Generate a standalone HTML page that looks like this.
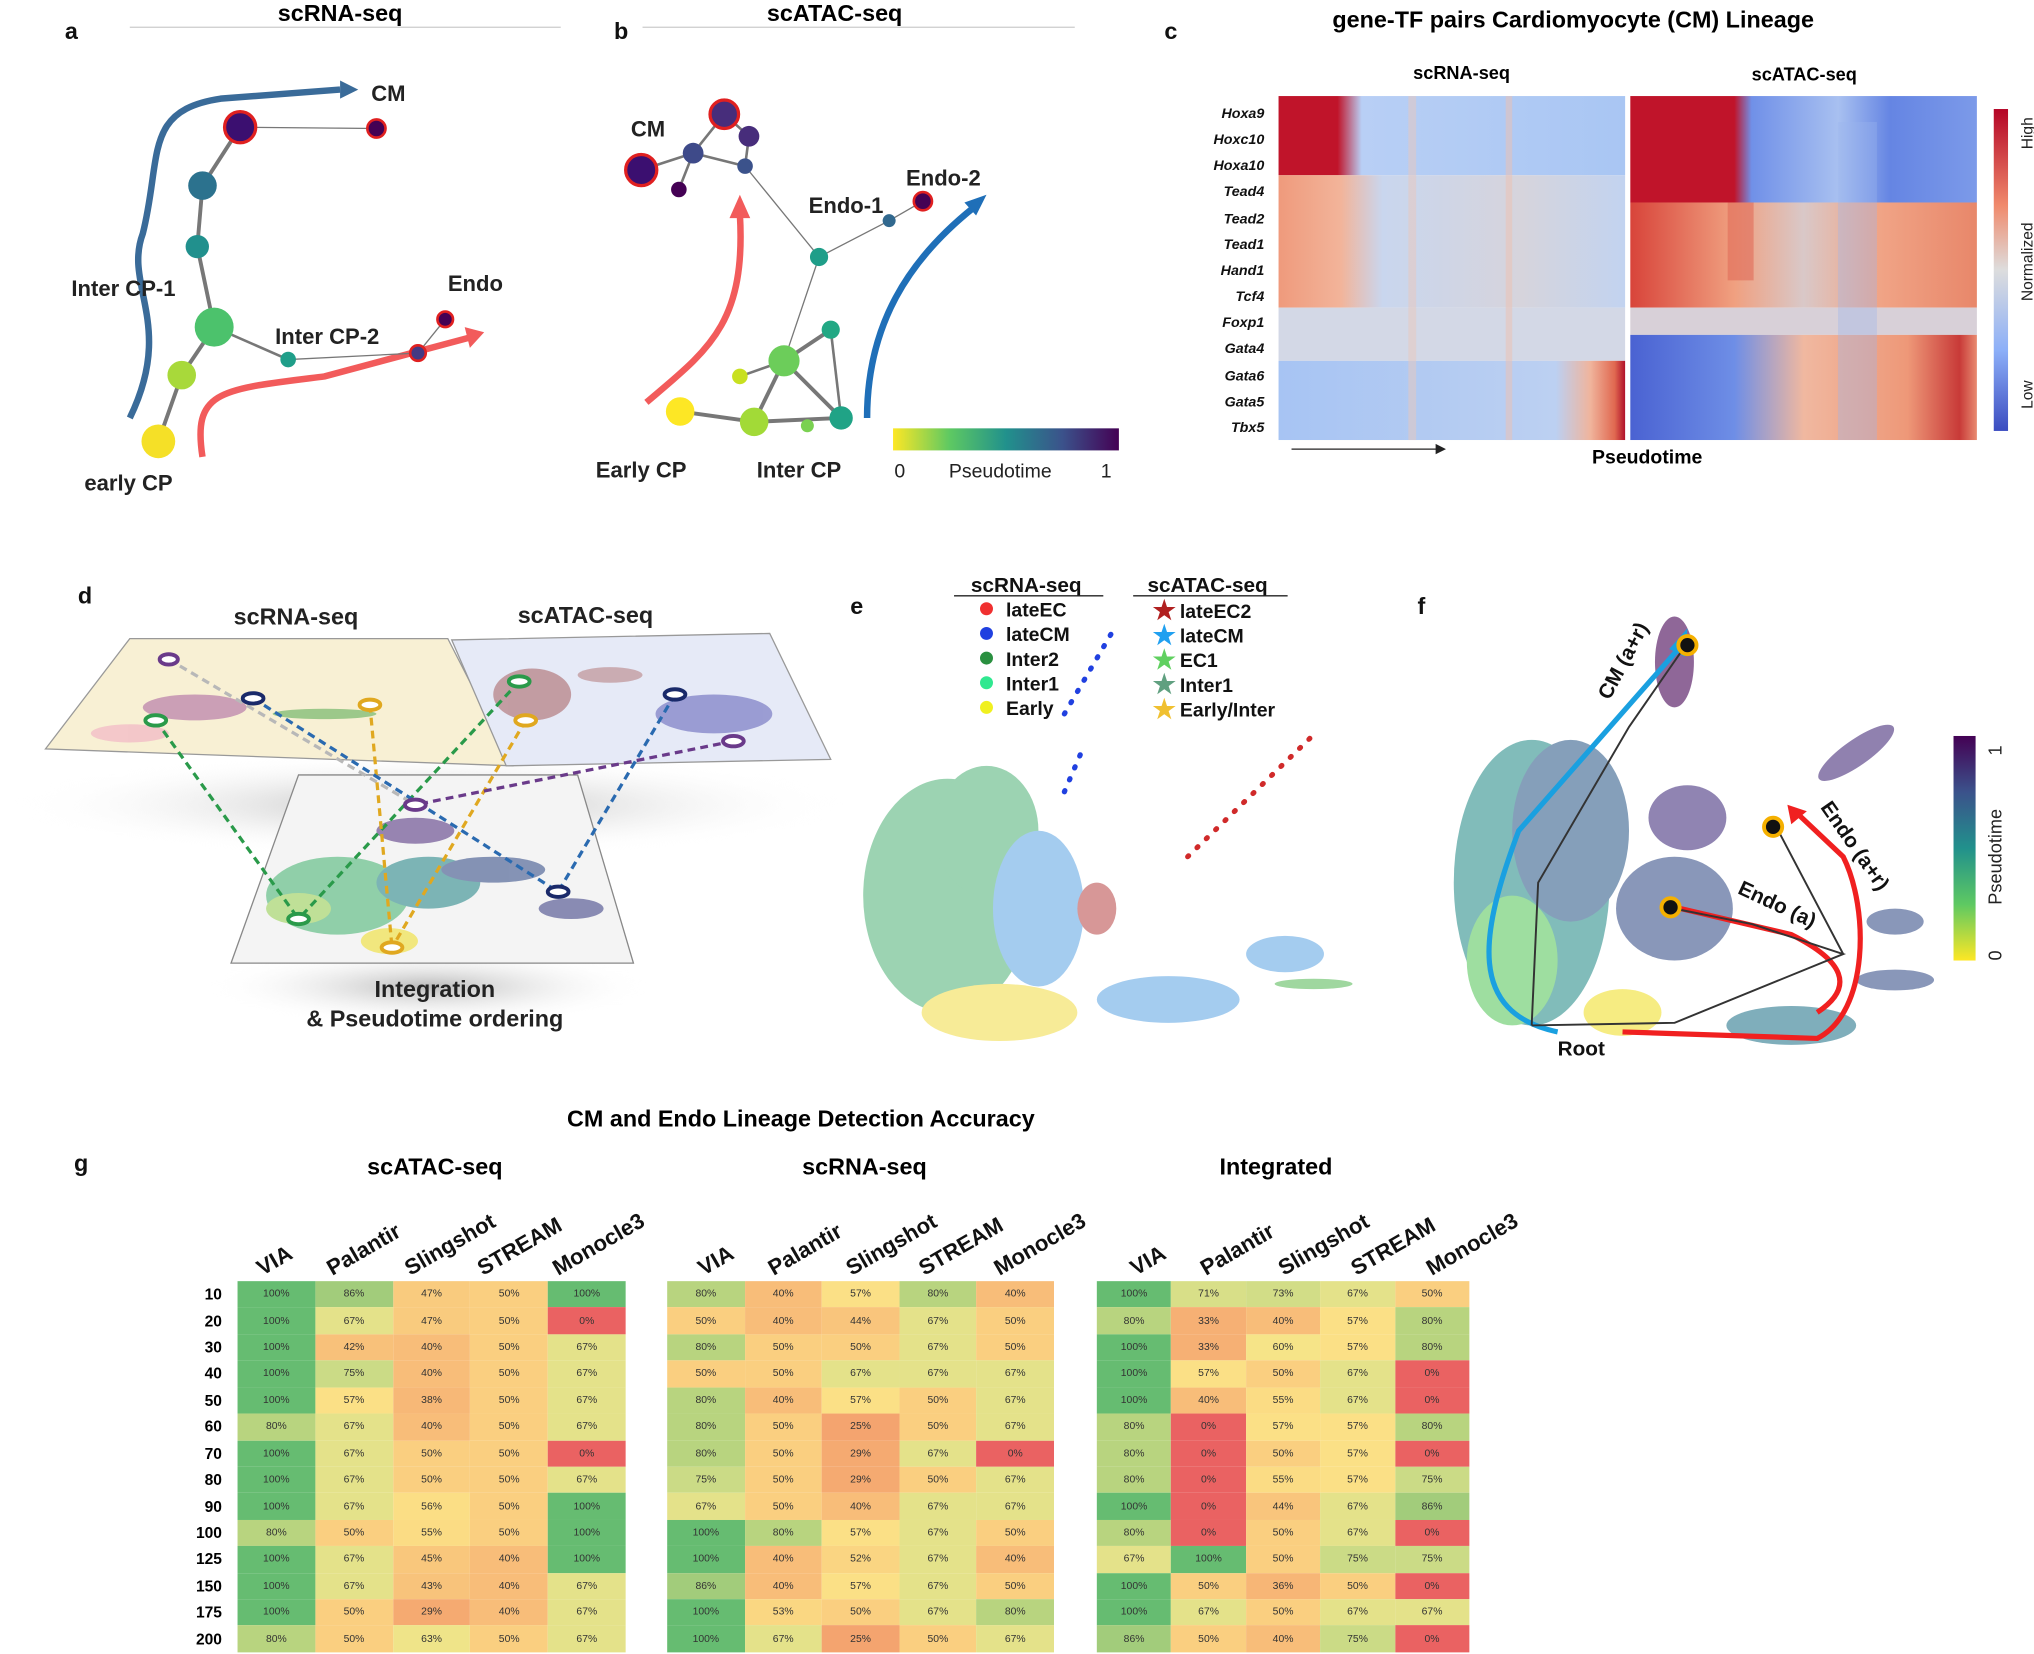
<!DOCTYPE html>
<html><head><meta charset="utf-8">
<style>
html,body{margin:0;padding:0;background:#fff;overflow:hidden}
#s{position:absolute;left:0;top:0;width:1567px;height:1274px;transform:scale(1.29802);transform-origin:0 0;font-family:"Liberation Sans",sans-serif}
svg{position:absolute;left:0;top:0}
table{position:absolute;border-collapse:collapse;table-layout:fixed}
td{height:20.43px;padding:0;font-size:8px;text-align:center;color:#333;line-height:20px}
th{font-size:12px;font-weight:bold;text-align:right;padding:0 12px 0 0;width:38px;height:20.43px}
.v0{background:#ea6262}.v25{background:#f4a46f}.v29{background:#f5aa71}.v33{background:#f6b074}.v36{background:#f7b676}.v38{background:#f7b877}
.v40{background:#f8bd79}.v42{background:#f8c17a}.v43{background:#f8c37b}.v44{background:#f9c57c}.v45{background:#f9c77c}.v47{background:#f9cb7e}
.v50{background:#facf80}.v52{background:#fad582}.v53{background:#fad782}.v55{background:#fbdc84}.v56{background:#fbde85}.v57{background:#fbe086}
.v60{background:#f6e488}.v63{background:#efe489}.v67{background:#e4e28a}.v71{background:#d8df88}.v73{background:#d2dd87}.v75{background:#cbdb86}
.v80{background:#b8d47f}.v86{background:#a2cc7b}.v100{background:#66bc71}
.t1 td{width:59.8px}.t2 td{width:59.6px}.t3 td{width:57.4px}
</style></head><body><div id="s">
<svg width="1567" height="1274" viewBox="0 0 1567 1274" font-family="Liberation Sans, sans-serif">
<defs>
<linearGradient id="vir" x1="0" x2="1"><stop offset="0" stop-color="#fde725"/><stop offset=".25" stop-color="#5ec962"/><stop offset=".5" stop-color="#21918c"/><stop offset=".75" stop-color="#3b528b"/><stop offset="1" stop-color="#440154"/></linearGradient>
<linearGradient id="virv" x1="0" y1="1" x2="0" y2="0"><stop offset="0" stop-color="#fde725"/><stop offset=".25" stop-color="#5ec962"/><stop offset=".5" stop-color="#21918c"/><stop offset=".75" stop-color="#3b528b"/><stop offset="1" stop-color="#440154"/></linearGradient>
<linearGradient id="cb" x1="0" y1="0" x2="0" y2="1"><stop offset="0" stop-color="#b40426"/><stop offset=".3" stop-color="#f08a6c"/><stop offset=".5" stop-color="#dddddd"/><stop offset=".75" stop-color="#8caff8"/><stop offset="1" stop-color="#3b4cc0"/></linearGradient>
<linearGradient id="r1" x1="0" x2="1"><stop offset="0" stop-color="#c0142a"/><stop offset=".17" stop-color="#c0142a"/><stop offset=".24" stop-color="#b8cff5"/><stop offset="1" stop-color="#a9c6f3"/></linearGradient>
<linearGradient id="r2" x1="0" x2="1"><stop offset="0" stop-color="#ef9a7c"/><stop offset=".18" stop-color="#f2b49a"/><stop offset=".3" stop-color="#c9d6ee"/><stop offset=".7" stop-color="#d6d4dc"/><stop offset="1" stop-color="#c2d3f0"/></linearGradient>
<linearGradient id="r3" x1="0" x2="1"><stop offset="0" stop-color="#a7c4f3"/><stop offset=".8" stop-color="#bcd0f2"/><stop offset=".9" stop-color="#f0b49c"/><stop offset=".97" stop-color="#e06850"/><stop offset="1" stop-color="#b0102a"/></linearGradient>
<linearGradient id="a1" x1="0" x2="1"><stop offset="0" stop-color="#c0142a"/><stop offset=".3" stop-color="#c0142a"/><stop offset=".35" stop-color="#7090e8"/><stop offset=".6" stop-color="#a8c0f0"/><stop offset=".75" stop-color="#6585e3"/><stop offset="1" stop-color="#7c9ae9"/></linearGradient>
<linearGradient id="a2" x1="0" x2="1"><stop offset="0" stop-color="#d8443a"/><stop offset=".3" stop-color="#f0a080"/><stop offset=".5" stop-color="#d9c8c8"/><stop offset=".7" stop-color="#f1a688"/><stop offset="1" stop-color="#e8876a"/></linearGradient>
<linearGradient id="a3" x1="0" x2="1"><stop offset="0" stop-color="#4a62d2"/><stop offset=".3" stop-color="#6e8ee6"/><stop offset=".5" stop-color="#f0b8a0"/><stop offset=".8" stop-color="#ee9878"/><stop offset=".95" stop-color="#c83a38"/><stop offset="1" stop-color="#e88a70"/></linearGradient>
<radialGradient id="sh"><stop offset="0" stop-color="#bbb"/><stop offset="1" stop-color="#fff" stop-opacity="0"/></radialGradient>
</defs>
<g font-weight="bold" fill="#111">
<text x="50" y="30" font-size="18">a</text><text x="473" y="30" font-size="18">b</text><text x="897" y="30" font-size="18">c</text>
<text x="60" y="465" font-size="18">d</text><text x="655" y="473" font-size="18">e</text><text x="1092" y="473" font-size="18">f</text><text x="57" y="902" font-size="18">g</text>
</g>
<!-- panel a -->
<text x="262" y="16" font-size="18" font-weight="bold" text-anchor="middle">scRNA-seq</text>
<line x1="100" y1="21" x2="432" y2="21" stroke="#ccc"/>
<path d="M100,322 C135,250 95,220 110,180 C125,120 110,85 170,76 L262,69" fill="none" stroke="#3a6b99" stroke-width="5"/>
<polygon points="262,62 276,69 262,76" fill="#3a6b99"/>
<path d="M156,352 C148,300 170,300 250,290 L362,260" fill="none" stroke="#f25b5b" stroke-width="5"/>
<polygon points="358,252 373,256 362,268" fill="#f25b5b"/>
<g stroke="#777" stroke-width="3"><line x1="122" y1="340" x2="140" y2="289"/><line x1="140" y1="289" x2="165" y2="252"/><line x1="165" y1="252" x2="152" y2="190"/><line x1="152" y1="190" x2="156" y2="143"/><line x1="156" y1="143" x2="185" y2="98"/><line x1="185" y1="98" x2="290" y2="99" stroke-width="1"/><line x1="165" y1="252" x2="222" y2="277" stroke-width="2"/><line x1="222" y1="277" x2="322" y2="272" stroke-width="1"/><line x1="322" y1="272" x2="343" y2="246" stroke-width="1"/></g>
<circle cx="122" cy="340" r="13" fill="#f5e027"/><circle cx="140" cy="289" r="11" fill="#a8d93a"/><circle cx="165" cy="252" r="15" fill="#4cc26c"/><circle cx="152" cy="190" r="9" fill="#21908d"/><circle cx="156" cy="143" r="11" fill="#2c728e"/>
<circle cx="185" cy="98" r="12" fill="#3b0f70" stroke="#e02020" stroke-width="2.5"/><circle cx="290" cy="99" r="7" fill="#440154" stroke="#e02020" stroke-width="2"/><circle cx="222" cy="277" r="6" fill="#1f9e89"/><circle cx="322" cy="272" r="6" fill="#443983" stroke="#e02020" stroke-width="2"/><circle cx="343" cy="246" r="6" fill="#440154" stroke="#e02020" stroke-width="2"/>
<g font-size="17" font-weight="bold" fill="#222"><text x="286" y="78">CM</text><text x="55" y="228">Inter CP-1</text><text x="345" y="224">Endo</text><text x="212" y="265">Inter CP-2</text><text x="65" y="378">early CP</text></g>
<!-- panel b -->
<text x="643" y="16" font-size="18" font-weight="bold" text-anchor="middle">scATAC-seq</text>
<line x1="495" y1="21" x2="828" y2="21" stroke="#ccc"/>
<path d="M498,310 C545,270 575,250 570,165" fill="none" stroke="#f25b5b" stroke-width="5"/><polygon points="562,168 570,150 578,168" fill="#f25b5b"/>
<path d="M668,322 C668,250 700,200 750,160" fill="none" stroke="#1f6fb8" stroke-width="5"/><polygon points="743,156 760,150 752,166" fill="#1f6fb8"/>
<g stroke="#777" stroke-width="2"><line x1="558" y1="88" x2="534" y2="118"/><line x1="534" y1="118" x2="494" y2="131"/><line x1="558" y1="88" x2="577" y2="105"/><line x1="577" y1="105" x2="574" y2="128"/><line x1="534" y1="118" x2="574" y2="128"/><line x1="534" y1="118" x2="523" y2="146"/><line x1="574" y1="128" x2="631" y2="198" stroke-width="1"/><line x1="631" y1="198" x2="685" y2="170" stroke-width="1"/><line x1="685" y1="170" x2="711" y2="155" stroke-width="1"/><line x1="631" y1="198" x2="604" y2="278" stroke-width="1"/><line x1="604" y1="278" x2="640" y2="254" stroke-width="3"/><line x1="604" y1="278" x2="648" y2="322" stroke-width="3"/><line x1="604" y1="278" x2="581" y2="325" stroke-width="3"/><line x1="524" y1="317" x2="581" y2="325" stroke-width="3"/><line x1="581" y1="325" x2="648" y2="322" stroke-width="3"/><line x1="570" y1="290" x2="604" y2="278"/><line x1="640" y1="254" x2="648" y2="322"/></g>
<circle cx="558" cy="88" r="11" fill="#472d7b" stroke="#e02020" stroke-width="2.5"/><circle cx="494" cy="131" r="12" fill="#3b0f70" stroke="#e02020" stroke-width="2.5"/><circle cx="534" cy="118" r="8" fill="#3e4a89"/><circle cx="577" cy="105" r="8" fill="#472d7b"/><circle cx="523" cy="146" r="6" fill="#440154"/><circle cx="574" cy="128" r="6" fill="#3b528b"/><circle cx="631" cy="198" r="7" fill="#1f9e89"/><circle cx="685" cy="170" r="5" fill="#31688e"/><circle cx="711" cy="155" r="7" fill="#440154" stroke="#e02020" stroke-width="2"/><circle cx="604" cy="278" r="12" fill="#6ccd5a"/><circle cx="640" cy="254" r="7" fill="#22a884"/><circle cx="648" cy="322" r="9" fill="#20a386"/><circle cx="581" cy="325" r="11" fill="#a2da37"/><circle cx="524" cy="317" r="11" fill="#fde725"/><circle cx="570" cy="290" r="6" fill="#c8e020"/><circle cx="622" cy="328" r="5" fill="#7ad151"/>
<g font-size="17" font-weight="bold" fill="#222"><text x="486" y="105">CM</text><text x="623" y="164">Endo-1</text><text x="698" y="143">Endo-2</text><text x="459" y="368">Early CP</text><text x="583" y="368">Inter CP</text></g>
<rect x="688" y="330" width="174" height="17" fill="url(#vir)"/>
<g font-size="15" fill="#222"><text x="689" y="368">0</text><text x="731" y="368">Pseudotime</text><text x="848" y="368">1</text></g>
<!-- panel c -->
<text x="1212" y="21" font-size="18" font-weight="bold" text-anchor="middle">gene-TF pairs Cardiomyocyte (CM) Lineage</text>
<text x="1126" y="61" font-size="14" font-weight="bold" text-anchor="middle">scRNA-seq</text><text x="1390" y="62" font-size="14" font-weight="bold" text-anchor="middle">scATAC-seq</text>
<g transform="translate(985,74)">
<rect width="267" height="61" fill="url(#r1)"/><rect y="61" width="267" height="102" fill="url(#r2)"/><rect y="163" width="267" height="41" fill="#d3d8e6"/><rect y="204" width="267" height="61" fill="url(#r3)"/>
<rect x="100" width="6" height="265" fill="#e9c8bc" opacity=".5"/><rect x="175" width="5" height="265" fill="#edc0b0" opacity=".5"/>
</g>
<g transform="translate(1256,74)">
<rect width="267" height="82" fill="url(#a1)"/><rect y="82" width="267" height="81" fill="url(#a2)"/><rect y="163" width="267" height="21" fill="#d8d0d8"/><rect y="184" width="267" height="81" fill="url(#a3)"/>
<rect x="75" y="82" width="20" height="60" fill="#e06a58" opacity=".6"/><rect x="160" y="20" width="30" height="245" fill="#9ab4ef" opacity=".35"/>
</g>
<g font-size="11" font-weight="bold" font-style="italic" text-anchor="end" fill="#111"><text x="974" y="91">Hoxa9</text><text x="974" y="111">Hoxc10</text><text x="974" y="131">Hoxa10</text><text x="974" y="151">Tead4</text><text x="974" y="172">Tead2</text><text x="974" y="192">Tead1</text><text x="974" y="212">Hand1</text><text x="974" y="232">Tcf4</text><text x="974" y="252">Foxp1</text><text x="974" y="272">Gata4</text><text x="974" y="293">Gata6</text><text x="974" y="313">Gata5</text><text x="974" y="333">Tbx5</text></g>
<line x1="995" y1="346" x2="1110" y2="346" stroke="#222"/><polygon points="1106,342 1114,346 1106,350" fill="#222"/>
<text x="1269" y="357" font-size="15" font-weight="bold" text-anchor="middle">Pseudotime</text>
<rect x="1536" y="84" width="11" height="248" fill="url(#cb)"/>
<g font-size="12" fill="#222"><text transform="translate(1566,115) rotate(-90)">High</text><text transform="translate(1566,232) rotate(-90)">Normalized</text><text transform="translate(1566,315) rotate(-90)">Low</text></g>
<!-- panel d -->
<ellipse cx="330" cy="620" rx="320" ry="40" fill="url(#sh)"/><ellipse cx="330" cy="760" rx="170" ry="30" fill="url(#sh)"/>
<polygon points="35,577 100,492 345,492 395,590" fill="#f8f0d4" stroke="#999"/>
<polygon points="348,493 593,488 640,585 390,590" fill="#e6eaf7" stroke="#999"/>
<polygon points="178,742 230,597 445,597 488,742" fill="#f4f4f4" stroke="#888"/>
<g font-size="18" font-weight="bold" fill="#222" text-anchor="middle"><text x="228" y="481">scRNA-seq</text><text x="451" y="480">scATAC-seq</text><text x="335" y="768">Integration</text><text x="335" y="791">&amp; Pseudotime ordering</text></g>
<g opacity=".6"><ellipse cx="260" cy="690" rx="55" ry="30" fill="#4fb878"/><ellipse cx="230" cy="700" rx="25" ry="12" fill="#9cd45a"/><ellipse cx="300" cy="725" rx="22" ry="10" fill="#f0e030"/><ellipse cx="330" cy="680" rx="40" ry="20" fill="#2d8a8c"/><ellipse cx="380" cy="670" rx="40" ry="10" fill="#3b528b"/><ellipse cx="440" cy="700" rx="25" ry="8" fill="#414487"/><ellipse cx="320" cy="640" rx="30" ry="10" fill="#5b3b85"/></g>
<g opacity=".5"><ellipse cx="150" cy="545" rx="40" ry="10" fill="#a0509a"/><ellipse cx="100" cy="565" rx="30" ry="7" fill="#f0a0c0"/><ellipse cx="250" cy="550" rx="40" ry="4" fill="#40a040"/><ellipse cx="410" cy="535" rx="30" ry="20" fill="#a05050"/><ellipse cx="550" cy="550" rx="45" ry="15" fill="#5050b0"/><ellipse cx="470" cy="520" rx="25" ry="6" fill="#b07070"/></g>
<g fill="none" stroke-width="2.5" stroke-dasharray="6,4"><path d="M120,555 L230,708" stroke="#2a9a4a"/><path d="M400,525 L230,708" stroke="#2a9a4a"/><path d="M130,508 L320,620" stroke="#b8b8b8"/><path d="M285,543 L302,730" stroke="#e0a820"/><path d="M405,555 L302,730" stroke="#e0a820"/><path d="M565,571 L320,620" stroke="#6a3a8a"/><path d="M195,538 L430,687" stroke="#2a6ab0"/><path d="M520,535 L430,687" stroke="#2a6ab0"/></g>
<g fill="#fff" stroke-width="3"><ellipse cx="130" cy="508" rx="7" ry="4" stroke="#6a3a8a"/><ellipse cx="120" cy="555" rx="8" ry="4" stroke="#2a9a4a"/><ellipse cx="195" cy="538" rx="8" ry="4" stroke="#1a2a6a"/><ellipse cx="285" cy="543" rx="8" ry="4" stroke="#e0a820"/><ellipse cx="400" cy="525" rx="8" ry="4" stroke="#2a9a4a"/><ellipse cx="405" cy="555" rx="8" ry="4" stroke="#e0a820"/><ellipse cx="520" cy="535" rx="8" ry="4" stroke="#1a2a6a"/><ellipse cx="565" cy="571" rx="8" ry="4" stroke="#6a3a8a"/><ellipse cx="320" cy="620" rx="8" ry="4" stroke="#6a3a8a"/><ellipse cx="230" cy="708" rx="8" ry="4" stroke="#2a9a4a"/><ellipse cx="302" cy="730" rx="8" ry="4" stroke="#e0a820"/><ellipse cx="430" cy="687" rx="8" ry="4" stroke="#1a2a6a"/></g>
<!-- panel e -->
<g font-size="16" font-weight="bold" fill="#111"><text x="748" y="456">scRNA-seq</text><text x="884" y="456">scATAC-seq</text></g>
<line x1="735" y1="459" x2="850" y2="459" stroke="#222"/><line x1="873" y1="459" x2="992" y2="459" stroke="#222"/>
<g font-size="15" font-weight="bold" fill="#111"><circle cx="760" cy="469" r="5" fill="#f03030"/><text x="775" y="475">lateEC</text><circle cx="760" cy="488" r="5" fill="#2040e0"/><text x="775" y="494">lateCM</text><circle cx="760" cy="507" r="5" fill="#2a9040"/><text x="775" y="513">Inter2</text><circle cx="760" cy="526" r="5" fill="#30e890"/><text x="775" y="532">Inter1</text><circle cx="760" cy="545" r="5" fill="#f0f020"/><text x="775" y="551">Early</text>
<text x="888" y="477" font-size="20" fill="#b02020">★</text><text x="909" y="476">lateEC2</text><text x="888" y="496" font-size="20" fill="#20a0f0">★</text><text x="909" y="495">lateCM</text><text x="888" y="515" font-size="20" fill="#60d060">★</text><text x="909" y="514">EC1</text><text x="888" y="534" font-size="20" fill="#60a080">★</text><text x="909" y="533">Inter1</text><text x="888" y="553" font-size="20" fill="#f0c030">★</text><text x="909" y="552">Early/Inter</text></g>
<g opacity=".5"><ellipse cx="730" cy="690" rx="65" ry="90" fill="#3aa866"/><ellipse cx="760" cy="640" rx="40" ry="50" fill="#3aa866"/><ellipse cx="800" cy="700" rx="35" ry="60" fill="#4a9ae0"/><ellipse cx="770" cy="780" rx="60" ry="22" fill="#f0d830"/><ellipse cx="900" cy="770" rx="55" ry="18" fill="#4a9ae0"/><ellipse cx="990" cy="735" rx="30" ry="14" fill="#4a9ae0"/><ellipse cx="845" cy="700" rx="15" ry="20" fill="#b03030"/><ellipse cx="1012" cy="758" rx="30" ry="4" fill="#40b040"/></g>
<g stroke-width="4" stroke-linecap="round" stroke-dasharray="1,9"><line x1="915" y1="660" x2="1010" y2="568" stroke="#d02a2a"/><line x1="820" y1="550" x2="858" y2="485" stroke="#2040e0"/><line x1="820" y1="610" x2="835" y2="575" stroke="#2040e0"/></g>
<!-- panel f -->
<g opacity=".6"><ellipse cx="1180" cy="680" rx="60" ry="110" fill="#2e8f8c"/><ellipse cx="1210" cy="640" rx="45" ry="70" fill="#35608d"/><ellipse cx="1165" cy="740" rx="35" ry="50" fill="#5ec962"/><ellipse cx="1250" cy="780" rx="30" ry="18" fill="#f0e030"/><ellipse cx="1290" cy="700" rx="45" ry="40" fill="#3b528b"/><ellipse cx="1300" cy="630" rx="30" ry="25" fill="#46337f"/><ellipse cx="1380" cy="790" rx="50" ry="15" fill="#2a788e"/><ellipse cx="1460" cy="755" rx="30" ry="8" fill="#3b528b"/><ellipse cx="1290" cy="510" rx="15" ry="35" fill="#440154"/><ellipse cx="1430" cy="580" rx="35" ry="10" fill="#472d7b" transform="rotate(-35 1430 580)"/><ellipse cx="1460" cy="710" rx="22" ry="10" fill="#3b528b"/></g>
<path d="M1200,795 C1130,780 1140,720 1170,640 L1293,500" fill="none" stroke="#1aa0e0" stroke-width="4"/><polygon points="1286,500 1300,484 1298,506" fill="#1aa0e0"/>
<path d="M1250,795 L1400,800 C1440,780 1440,700 1420,660 L1385,627" fill="none" stroke="#f02020" stroke-width="4"/><polygon points="1380,635 1377,620 1392,625" fill="#f02020"/>
<path d="M1400,780 C1430,760 1420,740 1380,720 L1295,700" fill="none" stroke="#f02020" stroke-width="4"/>
<path d="M1180,790 L1185,680 L1255,560 L1298,498 M1180,790 L1290,788 L1420,735 L1370,640 M1290,788 L1420,735 L1350,712 L1290,700" fill="none" stroke="#333" stroke-width="1.5"/>
<circle cx="1300" cy="497" r="7" fill="#111" stroke="#f5b000" stroke-width="3"/><circle cx="1366" cy="637" r="7" fill="#111" stroke="#f5b000" stroke-width="3"/><circle cx="1287" cy="699" r="7" fill="#111" stroke="#f5b000" stroke-width="3"/>
<g font-size="16" font-weight="bold" fill="#111"><text transform="translate(1240,540) rotate(-62)">CM (a+r)</text><text transform="translate(1402,622) rotate(55)">Endo (a+r)</text><text transform="translate(1338,688) rotate(25)">Endo (a)</text><text x="1200" y="813">Root</text></g>
<rect x="1505" y="567" width="17" height="173" fill="url(#virv)"/>
<g font-size="14" fill="#222"><text transform="translate(1542,582) rotate(-90)">1</text><text transform="translate(1542,697) rotate(-90)">Pseudotime</text><text transform="translate(1542,740) rotate(-90)">0</text></g>
<!-- panel g headers -->
<text x="617" y="868" font-size="18" font-weight="bold" text-anchor="middle">CM and Endo Lineage Detection Accuracy</text>
<g font-size="18" font-weight="bold" text-anchor="middle"><text x="335" y="905">scATAC-seq</text><text x="666" y="905">scRNA-seq</text><text x="983" y="905">Integrated</text></g>
<g font-size="17" font-weight="bold" fill="#111">
<text transform="translate(202,983) rotate(-30)">VIA</text><text transform="translate(256,983) rotate(-30)">Palantir</text><text transform="translate(316,983) rotate(-30)">Slingshot</text><text transform="translate(372,983) rotate(-30)">STREAM</text><text transform="translate(430,983) rotate(-30)">Monocle3</text>
<text transform="translate(542,983) rotate(-30)">VIA</text><text transform="translate(596,983) rotate(-30)">Palantir</text><text transform="translate(656,983) rotate(-30)">Slingshot</text><text transform="translate(712,983) rotate(-30)">STREAM</text><text transform="translate(770,983) rotate(-30)">Monocle3</text>
<text transform="translate(875,983) rotate(-30)">VIA</text><text transform="translate(929,983) rotate(-30)">Palantir</text><text transform="translate(989,983) rotate(-30)">Slingshot</text><text transform="translate(1045,983) rotate(-30)">STREAM</text><text transform="translate(1103,983) rotate(-30)">Monocle3</text>
</g>
</svg>
<table class="t1" style="left:133px;top:987px">
<tr><th>10<td class=v100>100%<td class=v86>86%<td class=v47>47%<td class=v50>50%<td class=v100>100%
<tr><th>20<td class=v100>100%<td class=v67>67%<td class=v47>47%<td class=v50>50%<td class=v0>0%
<tr><th>30<td class=v100>100%<td class=v42>42%<td class=v40>40%<td class=v50>50%<td class=v67>67%
<tr><th>40<td class=v100>100%<td class=v75>75%<td class=v40>40%<td class=v50>50%<td class=v67>67%
<tr><th>50<td class=v100>100%<td class=v57>57%<td class=v38>38%<td class=v50>50%<td class=v67>67%
<tr><th>60<td class=v80>80%<td class=v67>67%<td class=v40>40%<td class=v50>50%<td class=v67>67%
<tr><th>70<td class=v100>100%<td class=v67>67%<td class=v50>50%<td class=v50>50%<td class=v0>0%
<tr><th>80<td class=v100>100%<td class=v67>67%<td class=v50>50%<td class=v50>50%<td class=v67>67%
<tr><th>90<td class=v100>100%<td class=v67>67%<td class=v56>56%<td class=v50>50%<td class=v100>100%
<tr><th>100<td class=v80>80%<td class=v50>50%<td class=v55>55%<td class=v50>50%<td class=v100>100%
<tr><th>125<td class=v100>100%<td class=v67>67%<td class=v45>45%<td class=v40>40%<td class=v100>100%
<tr><th>150<td class=v100>100%<td class=v67>67%<td class=v43>43%<td class=v40>40%<td class=v67>67%
<tr><th>175<td class=v100>100%<td class=v50>50%<td class=v29>29%<td class=v40>40%<td class=v67>67%
<tr><th>200<td class=v80>80%<td class=v50>50%<td class=v63>63%<td class=v50>50%<td class=v67>67%
</table>
<table class="t2" style="left:514px;top:987px">
<tr><td class=v80>80%<td class=v40>40%<td class=v57>57%<td class=v80>80%<td class=v40>40%
<tr><td class=v50>50%<td class=v40>40%<td class=v44>44%<td class=v67>67%<td class=v50>50%
<tr><td class=v80>80%<td class=v50>50%<td class=v50>50%<td class=v67>67%<td class=v50>50%
<tr><td class=v50>50%<td class=v50>50%<td class=v67>67%<td class=v67>67%<td class=v67>67%
<tr><td class=v80>80%<td class=v40>40%<td class=v57>57%<td class=v50>50%<td class=v67>67%
<tr><td class=v80>80%<td class=v50>50%<td class=v25>25%<td class=v50>50%<td class=v67>67%
<tr><td class=v80>80%<td class=v50>50%<td class=v29>29%<td class=v67>67%<td class=v0>0%
<tr><td class=v75>75%<td class=v50>50%<td class=v29>29%<td class=v50>50%<td class=v67>67%
<tr><td class=v67>67%<td class=v50>50%<td class=v40>40%<td class=v67>67%<td class=v67>67%
<tr><td class=v100>100%<td class=v80>80%<td class=v57>57%<td class=v67>67%<td class=v50>50%
<tr><td class=v100>100%<td class=v40>40%<td class=v52>52%<td class=v67>67%<td class=v40>40%
<tr><td class=v86>86%<td class=v40>40%<td class=v57>57%<td class=v67>67%<td class=v50>50%
<tr><td class=v100>100%<td class=v53>53%<td class=v50>50%<td class=v67>67%<td class=v80>80%
<tr><td class=v100>100%<td class=v67>67%<td class=v25>25%<td class=v50>50%<td class=v67>67%
</table>
<table class="t3" style="left:845px;top:987px">
<tr><td class=v100>100%<td class=v71>71%<td class=v73>73%<td class=v67>67%<td class=v50>50%
<tr><td class=v80>80%<td class=v33>33%<td class=v40>40%<td class=v57>57%<td class=v80>80%
<tr><td class=v100>100%<td class=v33>33%<td class=v60>60%<td class=v57>57%<td class=v80>80%
<tr><td class=v100>100%<td class=v57>57%<td class=v50>50%<td class=v67>67%<td class=v0>0%
<tr><td class=v100>100%<td class=v40>40%<td class=v55>55%<td class=v67>67%<td class=v0>0%
<tr><td class=v80>80%<td class=v0>0%<td class=v57>57%<td class=v57>57%<td class=v80>80%
<tr><td class=v80>80%<td class=v0>0%<td class=v50>50%<td class=v57>57%<td class=v0>0%
<tr><td class=v80>80%<td class=v0>0%<td class=v55>55%<td class=v57>57%<td class=v75>75%
<tr><td class=v100>100%<td class=v0>0%<td class=v44>44%<td class=v67>67%<td class=v86>86%
<tr><td class=v80>80%<td class=v0>0%<td class=v50>50%<td class=v67>67%<td class=v0>0%
<tr><td class=v67>67%<td class=v100>100%<td class=v50>50%<td class=v75>75%<td class=v75>75%
<tr><td class=v100>100%<td class=v50>50%<td class=v36>36%<td class=v50>50%<td class=v0>0%
<tr><td class=v100>100%<td class=v67>67%<td class=v50>50%<td class=v67>67%<td class=v67>67%
<tr><td class=v86>86%<td class=v50>50%<td class=v40>40%<td class=v75>75%<td class=v0>0%
</table>
</div></body></html>
